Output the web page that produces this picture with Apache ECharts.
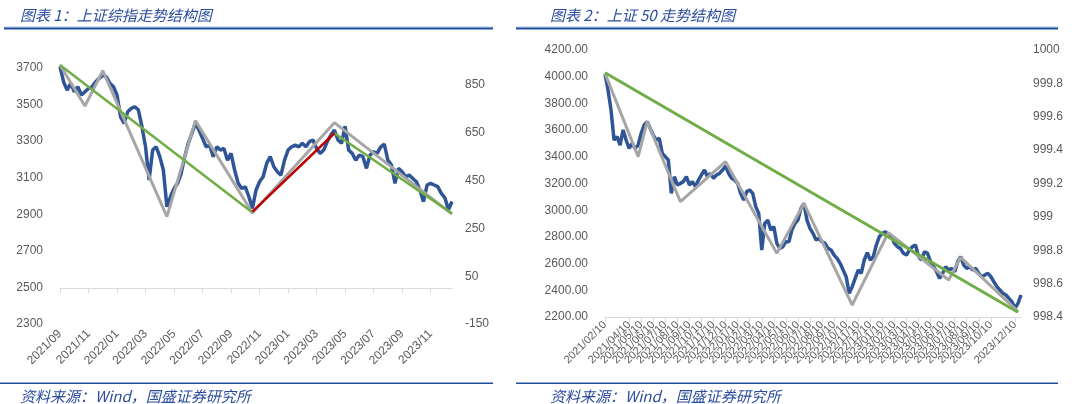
<!DOCTYPE html>
<html><head><meta charset="utf-8">
<script src="https://cdn.jsdelivr.net/npm/echarts@6/dist/echarts.min.js"></script>
<style>html,body{margin:0;padding:0;background:#fff}#c{width:1080px;height:404px}</style>
</head><body><div id="c"></div>
<script>
// ---------- Chart 1: 上证综指 (4 samples per month, 2021/09 – 2023/12) ----------
const shCategories = (function(){const a=[];const days=['01','08','16','23'];for(let m=0;m<28;m++){const y=2021+Math.floor((8+m)/12);const mo=((8+m)%12)+1;for(const d of days)a.push(y+'/'+String(mo).padStart(2,'0')+'/'+d);}return a.slice(0,111);})();
const shClose = [3707,3625,3579,3616,3570,3597,3552,3570,3588,3597,3625,3643,3661,3652,3616,3597,
3552,3433,3397,3461,3479,3488,3470,3379,3269,3087,3251,3269,3215,3142,2941,2996,
3041,3069,3124,3215,3288,3342,3397,3361,3315,3269,3278,3215,3269,3251,3260,3196,
3233,3142,3069,3041,3050,2996,2932,3032,3078,3105,3178,3215,3160,3133,3114,3196,
3251,3269,3278,3269,3288,3269,3297,3306,3260,3233,3251,3297,3333,3361,3306,3288,
3382,3251,3233,3196,3224,3215,3151,3224,3242,3233,3269,3284,3196,3169,3069,3151,
3133,3105,3114,3096,3078,3032,2969,3060,3069,3060,3051,3014,2990,2925,2970];
const shPivotIdx = [0,7,12,30,38,54,77,110];
const shPivotVal = [3716,3492,3685,2887,3412,2907,3401,2901];
const shGreen1Idx = [0,54],  shGreen1Val = [3716,2910];
const shRedIdx    = [54,77], shRedVal    = [2914,3343];
const shGreen2Idx = [77,110],shGreen2Val = [3343,2905];

// ---------- Chart 2: 上证50 (4 samples per month, 2021/02 – 2023/12) ----------
const sz50Categories = (function(){const a=[];for(let m=0;m<35;m++){const y=2021+Math.floor((1+m)/12);const mo=((1+m)%12)+1;const mm=String(mo).padStart(2,'0');a.push(y+'/'+mm+'/10',y+'/'+mm+'/17',y+'/'+mm+'/24');const y2=2021+Math.floor((2+m)/12);const mo2=((2+m)%12)+1;a.push(y2+'/'+String(mo2).padStart(2,'0')+'/01');}return a.slice(0,139);})();
const sz50Close = [4020,3900,3750,3526,3551,3488,3601,3526,3463,3501,3463,3488,3576,3638,3663,3613,
3563,3526,3538,3426,3401,3376,3126,3251,3189,3201,3214,3251,3189,3214,3176,3226,
3264,3301,3251,3276,3239,3264,3276,3301,3331,3276,3239,3226,3201,3126,3076,3139,
3151,3126,3026,2976,2702,2901,2926,2852,2877,2752,2714,2727,2764,2764,2852,2901,
2926,3014,3051,2926,2864,2827,2777,2789,2764,2752,2714,2702,2664,2639,2602,2552,
2502,2377,2427,2489,2552,2527,2627,2682,2627,2652,2739,2802,2827,2839,2814,2802,
2752,2727,2714,2677,2664,2702,2727,2739,2652,2627,2689,2677,2614,2577,2539,2489,
2527,2577,2552,2564,2539,2614,2652,2589,2564,2577,2552,2564,2527,2502,2514,2527,
2502,2464,2427,2402,2377,2365,2340,2315,2265,2302,2365];
const sz50PivotIdx = [0,11,14,25,40,57,66,82,94,114,118,137];
const sz50PivotVal = [4025,3401,3663,3064,3363,2677,3051,2290,2832,2477,2647,2240];
const sz50GreenIdx = [0,137], sz50GreenVal = [4030,2235];

const leftTicks1 = {min:2300,max:3853,interval:200};
const rightTicks1 = {min:-150,max:1038,interval:200};
const leftTicks2 = {min:2200,max:4200,interval:200};
const rightTicks2 = {min:998.4,max:1000,interval:0.2};

function pairs(idx,val){return idx.map((i,k)=>[i,val[k]]);}

const BLUE='#2F5597', GRAY='#A6A6A6', GREEN='#70AD47', RED='#C00000';
const TXT='#595959', AX='#D9D9D9', TITLE='#2B4C9E';
const lab = {color:TXT,fontSize:12,fontFamily:'Liberation Sans'};
const ttl = {color:TITLE,fontSize:15,fontStyle:'italic',fontWeight:'normal',fontFamily:'Noto Sans CJK SC'};

const chart = echarts.init(document.getElementById('c'),null,{renderer:'canvas'});
chart.setOption({
  animation:false,
  backgroundColor:'#fff',
  title:[
    {text:'图表 1：上证综指走势结构图',left:15,top:3,textStyle:ttl},
    {text:'图表 2：上证 50 走势结构图',left:545,top:3,textStyle:ttl},
    {text:'资料来源：Wind，国盛证券研究所',left:15,top:384,textStyle:ttl},
    {text:'资料来源：Wind，国盛证券研究所',left:545,top:384,textStyle:ttl}
  ],
  graphic:[
    {type:'rect',shape:{x:4,y:26.5,width:489,height:1},style:{fill:'#A9BCE3'}},
    {type:'rect',shape:{x:4,y:27.5,width:489,height:2},style:{fill:'#1F4E9A'}},
    {type:'rect',shape:{x:516,y:26.5,width:542,height:1},style:{fill:'#A9BCE3'}},
    {type:'rect',shape:{x:516,y:27.5,width:542,height:2},style:{fill:'#1F4E9A'}},
    {type:'rect',shape:{x:0,y:382.5,width:493,height:1.5},style:{fill:'#1F4E9A'}},
    {type:'rect',shape:{x:516,y:382.5,width:542,height:1.5},style:{fill:'#1F4E9A'}}
  ],
  grid:[
    {left:60,top:40,width:392,height:284},
    {left:605,top:50,width:416,height:267}
  ],
  xAxis:[
    {type:'category',gridIndex:0,data:shCategories,boundaryGap:false,
     axisLine:{lineStyle:{color:AX,width:1}},
     axisTick:{show:true,interval:(i)=>i%8===0,length:5,lineStyle:{color:AX}},
     axisLabel:Object.assign({},lab,{interval:(i)=>i%8===0,rotate:45,margin:8,showMinLabel:true,showMaxLabel:true,formatter:v=>v.slice(0,7)}),
     splitLine:{show:false}},
    {type:'category',gridIndex:1,data:sz50Categories,boundaryGap:false,
     axisLine:{lineStyle:{color:AX,width:1}},
     axisTick:{show:true,interval:(i)=>i%4===0,length:5,lineStyle:{color:AX}},
     axisLabel:Object.assign({},lab,{fontSize:11,interval:(i)=>i%4===0,rotate:45,margin:6,showMinLabel:true,showMaxLabel:true}),
     splitLine:{show:false}}
  ],
  yAxis:[
    {type:'value',gridIndex:0,position:'left',min:leftTicks1.min,max:leftTicks1.max,interval:leftTicks1.interval,
     axisLine:{show:false},axisTick:{show:false},splitLine:{show:false},
     axisLabel:Object.assign({},lab,{margin:17,formatter:v=>((v-2300)%200===0?String(v):'')})},
    {type:'value',gridIndex:0,position:'right',min:rightTicks1.min,max:rightTicks1.max,interval:rightTicks1.interval,
     axisLine:{show:false},axisTick:{show:false},splitLine:{show:false},
     axisLabel:Object.assign({},lab,{margin:13,formatter:v=>((v+150)%200===0?String(v):'')})},
    {type:'value',gridIndex:1,position:'left',min:leftTicks2.min,max:leftTicks2.max,interval:leftTicks2.interval,
     axisLine:{show:false},axisTick:{show:false},splitLine:{show:false},
     axisLabel:Object.assign({},lab,{margin:17,formatter:v=>v.toFixed(2)})},
    {type:'value',gridIndex:1,position:'right',min:rightTicks2.min,max:rightTicks2.max,interval:rightTicks2.interval,
     axisLine:{show:false},axisTick:{show:false},splitLine:{show:false},
     axisLabel:Object.assign({},lab,{margin:12,formatter:v=>String(parseFloat(v.toFixed(1)))})}
  ],
  series:[
    {type:'line',xAxisIndex:0,yAxisIndex:0,data:shClose,showSymbol:false,symbol:'none',lineStyle:{color:BLUE,width:3.5},z:2},
    {type:'line',xAxisIndex:0,yAxisIndex:0,data:pairs(shPivotIdx,shPivotVal),symbol:'none',lineStyle:{color:GRAY,width:3},z:3},
    {type:'line',xAxisIndex:0,yAxisIndex:0,data:pairs(shGreen1Idx,shGreen1Val),symbol:'none',lineStyle:{color:GREEN,width:2.5},z:4},
    {type:'line',xAxisIndex:0,yAxisIndex:0,data:pairs(shRedIdx,shRedVal),symbol:'none',lineStyle:{color:RED,width:2.5},z:5},
    {type:'line',xAxisIndex:0,yAxisIndex:0,data:pairs(shGreen2Idx,shGreen2Val),symbol:'none',lineStyle:{color:GREEN,width:2.5},z:4},
    {type:'line',xAxisIndex:1,yAxisIndex:2,data:sz50Close,showSymbol:false,symbol:'none',lineStyle:{color:BLUE,width:3.5},z:2},
    {type:'line',xAxisIndex:1,yAxisIndex:2,data:pairs(sz50PivotIdx,sz50PivotVal),symbol:'none',lineStyle:{color:GRAY,width:3},z:3},
    {type:'line',xAxisIndex:1,yAxisIndex:2,data:pairs(sz50GreenIdx,sz50GreenVal),symbol:'none',lineStyle:{color:GREEN,width:3},z:4}
  ]
});
</script></body></html>
